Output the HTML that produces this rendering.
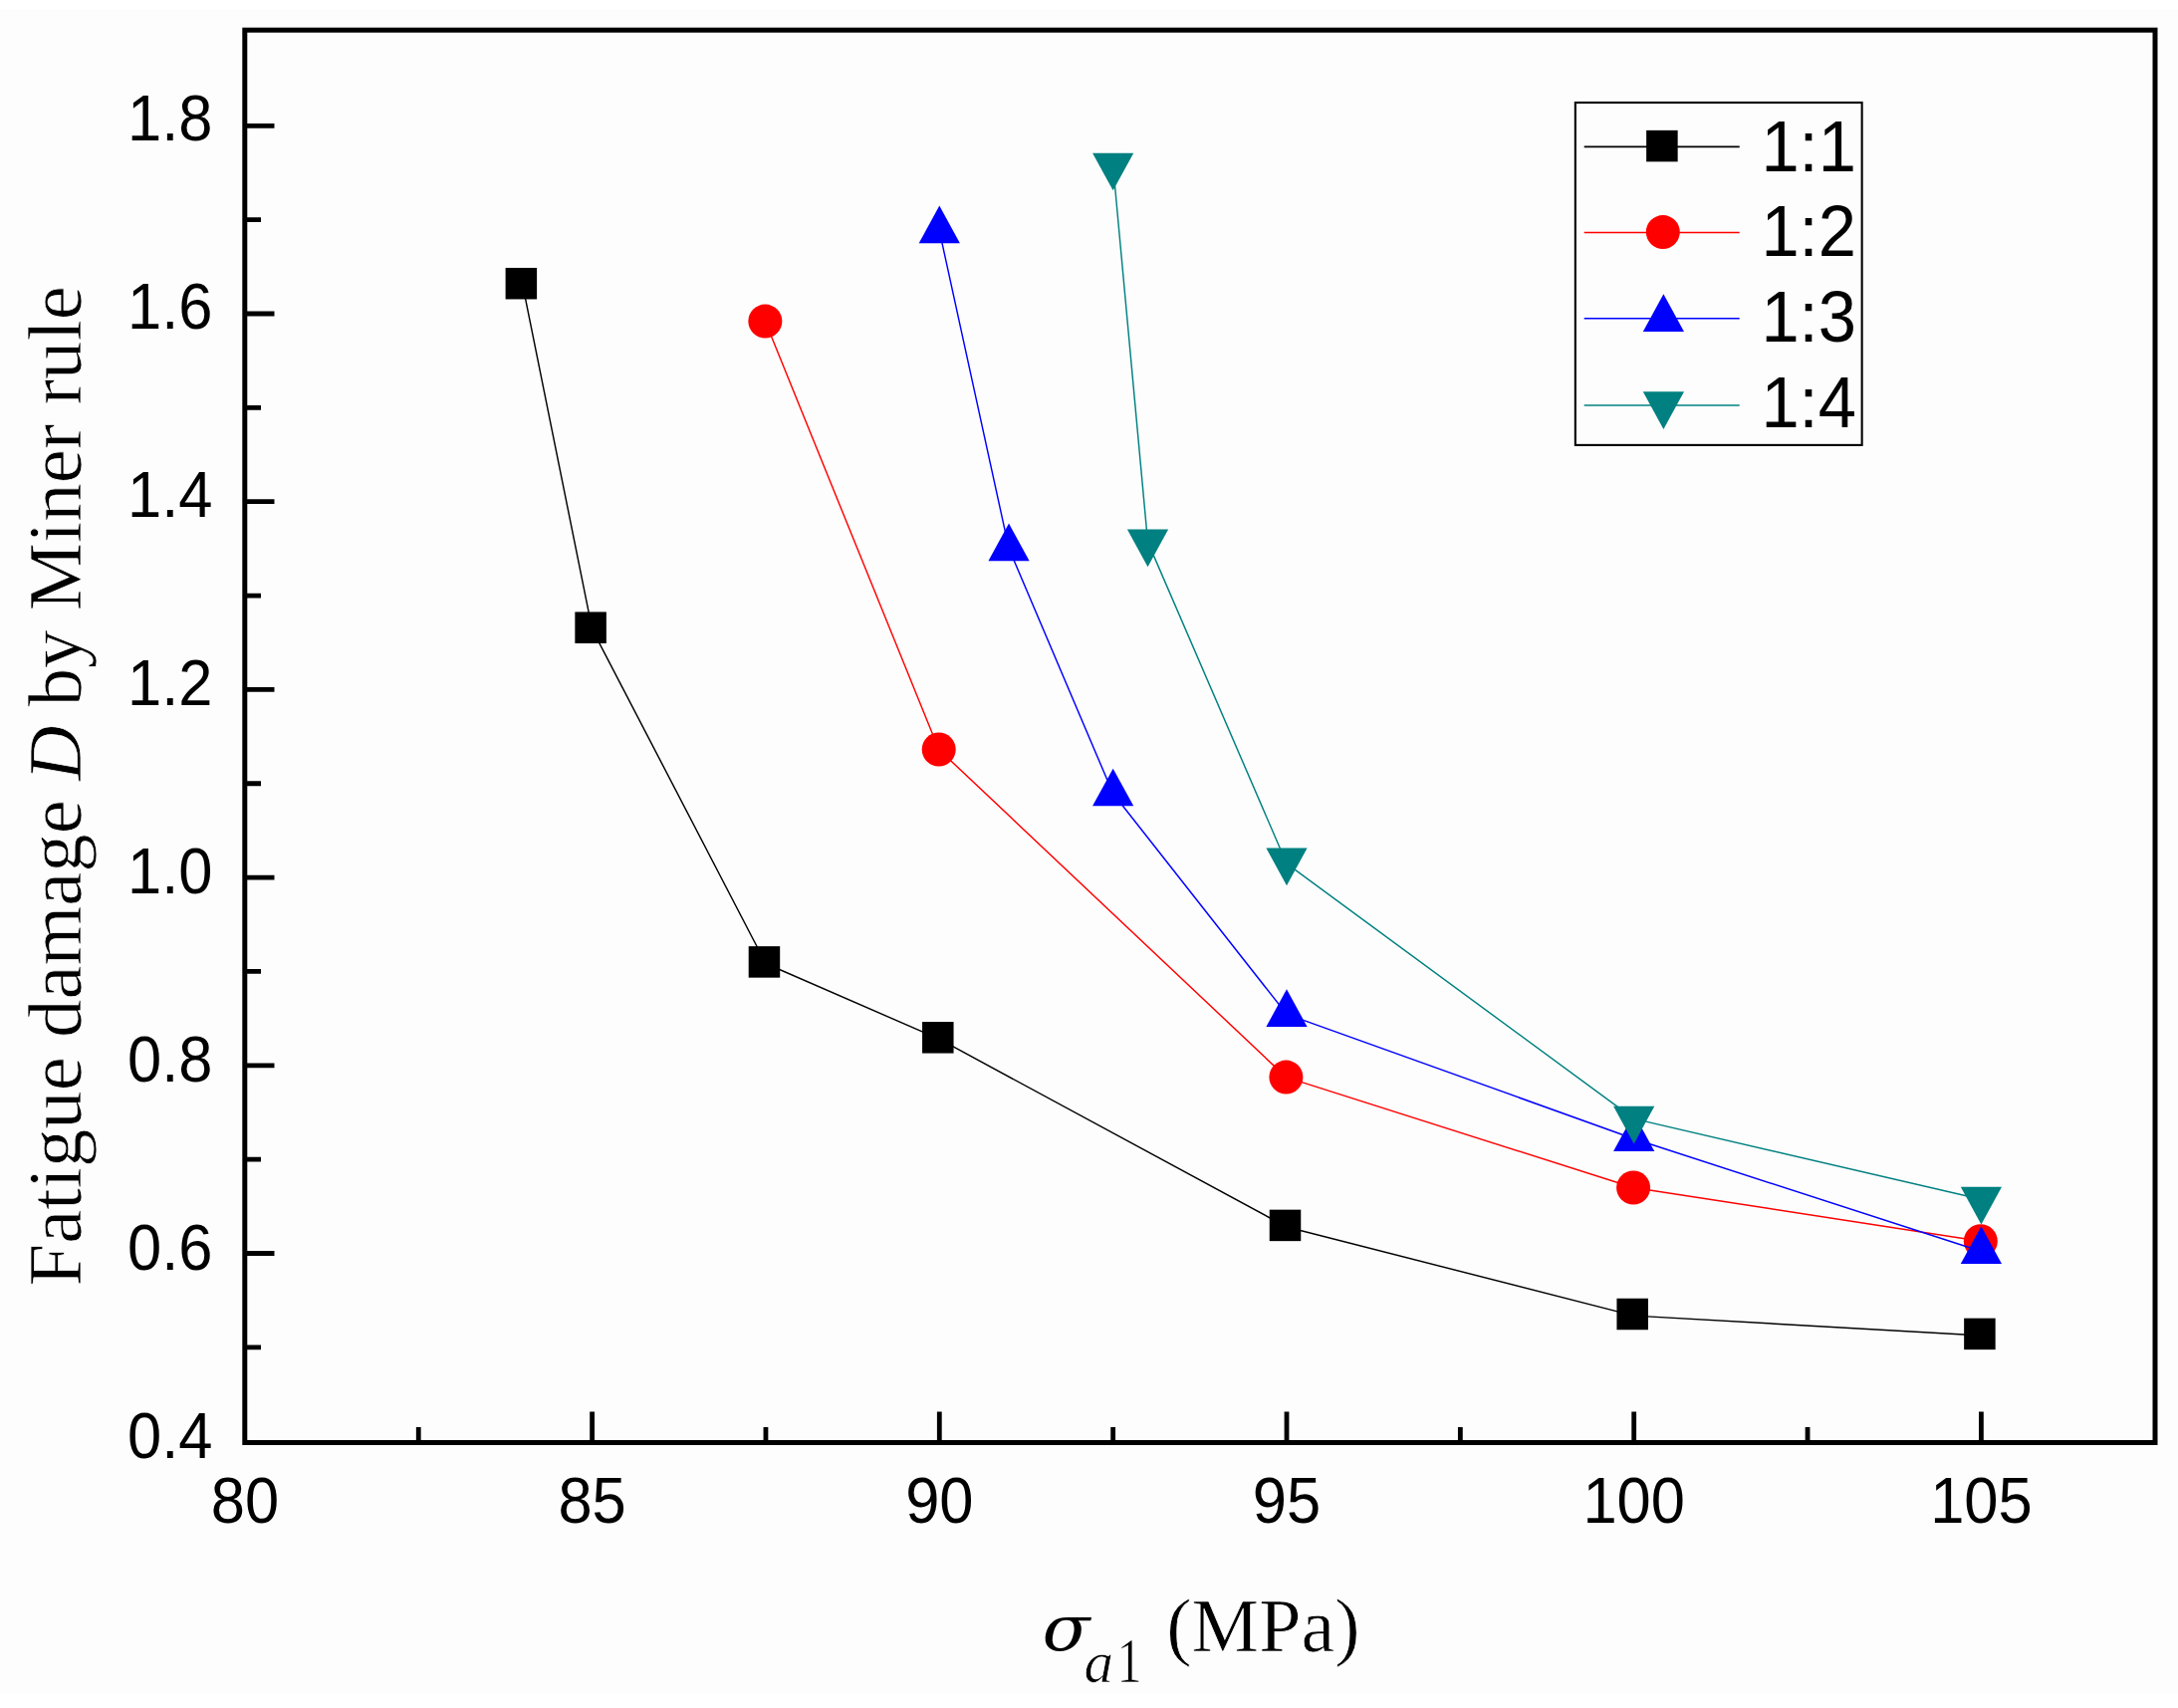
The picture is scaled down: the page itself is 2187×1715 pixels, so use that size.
<!DOCTYPE html>
<html><head><meta charset="utf-8"><title>Fatigue damage chart</title>
<style>html,body{margin:0;padding:0;background:#fff;}svg{display:block;}</style>
</head><body>
<svg width="2187" height="1715" viewBox="0 0 2187 1715">
<rect x="0" y="0" width="2187" height="1715" fill="#fdfdfd"/>
<rect x="0" y="0" width="2187" height="9" fill="#fff"/>
<rect x="0" y="1700" width="2187" height="15" fill="#fff"/>
<path d="M594.6 1448.5V1417.5 M943.3 1448.5V1417.5 M1292 1448.5V1417.5 M1640.7 1448.5V1417.5 M1989.4 1448.5V1417.5 M420.25 1448.5V1433 M768.95 1448.5V1433 M1117.65 1448.5V1433 M1466.35 1448.5V1433 M1815.05 1448.5V1433 M245.9 1258.5H275.5 M245.9 1069.8H275.5 M245.9 881.1H275.5 M245.9 692.4H275.5 M245.9 503.7H275.5 M245.9 315H275.5 M245.9 126.3H275.5 M245.9 1352.85H262 M245.9 1164.15H262 M245.9 975.45H262 M245.9 786.75H262 M245.9 598.05H262 M245.9 409.35H262 M245.9 220.65H262" stroke="#000" stroke-width="4.8" fill="none"/>
<rect x="245.8" y="30.2" width="1918.2" height="1418.3" fill="none" stroke="#000" stroke-width="5"/>
<g font-family="Liberation Sans, Arial, sans-serif" font-size="64" fill="#000">
<text transform="translate(213.5,1463.79) scale(0.96,1)" text-anchor="end">0.4</text>
<text transform="translate(213.5,1274.87) scale(0.96,1)" text-anchor="end">0.6</text>
<text transform="translate(213.5,1085.95) scale(0.96,1)" text-anchor="end">0.8</text>
<text transform="translate(213.5,897.03) scale(0.96,1)" text-anchor="end">1.0</text>
<text transform="translate(213.5,708.11) scale(0.96,1)" text-anchor="end">1.2</text>
<text transform="translate(213.5,519.19) scale(0.96,1)" text-anchor="end">1.4</text>
<text transform="translate(213.5,330.27) scale(0.96,1)" text-anchor="end">1.6</text>
<text transform="translate(213.5,141.35) scale(0.96,1)" text-anchor="end">1.8</text>
<text transform="translate(245.9,1528.5) scale(0.96,1)" text-anchor="middle">80</text>
<text transform="translate(594.6,1528.5) scale(0.96,1)" text-anchor="middle">85</text>
<text transform="translate(943.3,1528.5) scale(0.96,1)" text-anchor="middle">90</text>
<text transform="translate(1292,1528.5) scale(0.96,1)" text-anchor="middle">95</text>
<text transform="translate(1640.7,1528.5) scale(0.96,1)" text-anchor="middle">100</text>
<text transform="translate(1989.4,1528.5) scale(0.96,1)" text-anchor="middle">105</text>
</g>
<text transform="translate(80.5,789.3) rotate(-90)" text-anchor="middle" font-family="Liberation Serif, Times New Roman, serif" font-size="76.8" fill="#000" stroke="#fdfdfd" stroke-width="0.7">Fatigue damage <tspan font-style="italic">D</tspan> by Miner rule</text>
<g font-family="Liberation Serif, Times New Roman, serif" fill="#000" stroke="#fdfdfd" stroke-width="0.7">
<text transform="translate(1046.4,1656.9) scale(0.912,0.815)" font-family="DejaVu Serif, serif" font-style="italic" font-size="77" stroke="none">σ</text>
<text x="1088.6" y="1689.3" font-style="italic" font-size="59">a</text>
<text transform="translate(1121.5,1689.3) scale(0.8,1)" font-size="63">1</text>
<text x="1171.3" y="1657.7" font-size="76">(MPa)</text>
</g>
<path d="M524.86 286.3 L594.6 631.8 L768.95 967.5 L943.3 1043.4 L1292 1232 L1640.7 1321.1 L1989.4 1341" stroke="#000" stroke-width="1.45" fill="none" stroke-linejoin="round"/>
<rect x="507.61" y="268.95" width="31.5" height="31.5" fill="#000"/>
<rect x="577.35" y="614.45" width="31.5" height="31.5" fill="#000"/>
<rect x="751.7" y="950.15" width="31.5" height="31.5" fill="#000"/>
<rect x="926.05" y="1026.05" width="31.5" height="31.5" fill="#000"/>
<rect x="1274.75" y="1214.65" width="31.5" height="31.5" fill="#000"/>
<rect x="1623.45" y="1303.75" width="31.5" height="31.5" fill="#000"/>
<rect x="1972.15" y="1323.65" width="31.5" height="31.5" fill="#000"/>
<path d="M768.35 322.6 L942.7 752.5 L1291.4 1081.6 L1640.1 1192.5 L1988.8 1246.3" stroke="#f00" stroke-width="1.45" fill="none" stroke-linejoin="round"/>
<circle cx="768.35" cy="322.6" r="17.0" fill="#f00"/>
<circle cx="942.7" cy="752.5" r="17.0" fill="#f00"/>
<circle cx="1291.4" cy="1081.6" r="17.0" fill="#f00"/>
<circle cx="1640.1" cy="1192.5" r="17.0" fill="#f00"/>
<circle cx="1988.8" cy="1246.3" r="17.0" fill="#f00"/>
<path d="M943.3 231.7 L1013.04 550.7 L1117.65 796.8 L1292 1018.4 L1640.7 1143.5 L1989.4 1256.5" stroke="#00f" stroke-width="1.45" fill="none" stroke-linejoin="round"/>
<path d="M943.3 206.57L963.9 244.27L922.7 244.27Z" fill="#00f"/>
<path d="M1013.04 525.57L1033.64 563.27L992.44 563.27Z" fill="#00f"/>
<path d="M1117.65 771.67L1138.25 809.37L1097.05 809.37Z" fill="#00f"/>
<path d="M1292 993.27L1312.6 1030.97L1271.4 1030.97Z" fill="#00f"/>
<path d="M1640.7 1118.37L1661.3 1156.07L1620.1 1156.07Z" fill="#00f"/>
<path d="M1989.4 1231.37L2010 1269.07L1968.8 1269.07Z" fill="#00f"/>
<path d="M1117.65 166.2 L1152.52 544.1 L1292 867.2 L1640.7 1123.4 L1989.4 1204.3" stroke="#008080" stroke-width="1.45" fill="none" stroke-linejoin="round"/>
<path d="M1117.65 191.33L1138.25 153.63L1097.05 153.63Z" fill="#008080"/>
<path d="M1152.52 569.23L1173.12 531.53L1131.92 531.53Z" fill="#008080"/>
<path d="M1292 889.13L1312.6 851.43L1271.4 851.43Z" fill="#008080"/>
<path d="M1640.7 1148.53L1661.3 1110.83L1620.1 1110.83Z" fill="#008080"/>
<path d="M1989.4 1229.43L2010 1191.73L1968.8 1191.73Z" fill="#008080"/>
<rect x="1581.85" y="103" width="287.8" height="343.9" fill="#fdfdfd" stroke="#000" stroke-width="2.1"/>
<path d="M1590.7 147.3H1746.7" stroke="#000" stroke-width="1.65"/>
<rect x="1653.15" y="130.85" width="31.5" height="31.5" fill="#000"/>
<text transform="translate(1768.4,171.7) scale(0.96,1)" font-family="Liberation Sans, Arial, sans-serif" font-size="71.5" fill="#000">1:1</text>
<path d="M1590.7 233.5H1746.7" stroke="#f00" stroke-width="1.65"/>
<circle cx="1669.8" cy="233.1" r="17.0" fill="#f00"/>
<text transform="translate(1768.4,257.1) scale(0.96,1)" font-family="Liberation Sans, Arial, sans-serif" font-size="71.5" fill="#000">1:2</text>
<path d="M1590.7 319.7H1746.7" stroke="#00f" stroke-width="1.65"/>
<path d="M1670.4 295.37L1691 333.07L1649.8 333.07Z" fill="#00f"/>
<text transform="translate(1768.4,343.2) scale(0.96,1)" font-family="Liberation Sans, Arial, sans-serif" font-size="71.5" fill="#000">1:3</text>
<path d="M1590.7 407H1746.7" stroke="#008080" stroke-width="1.65"/>
<path d="M1670.4 431.03L1691 393.33L1649.8 393.33Z" fill="#008080"/>
<text transform="translate(1768.4,429.3) scale(0.96,1)" font-family="Liberation Sans, Arial, sans-serif" font-size="71.5" fill="#000">1:4</text>
</svg>
</body></html>
